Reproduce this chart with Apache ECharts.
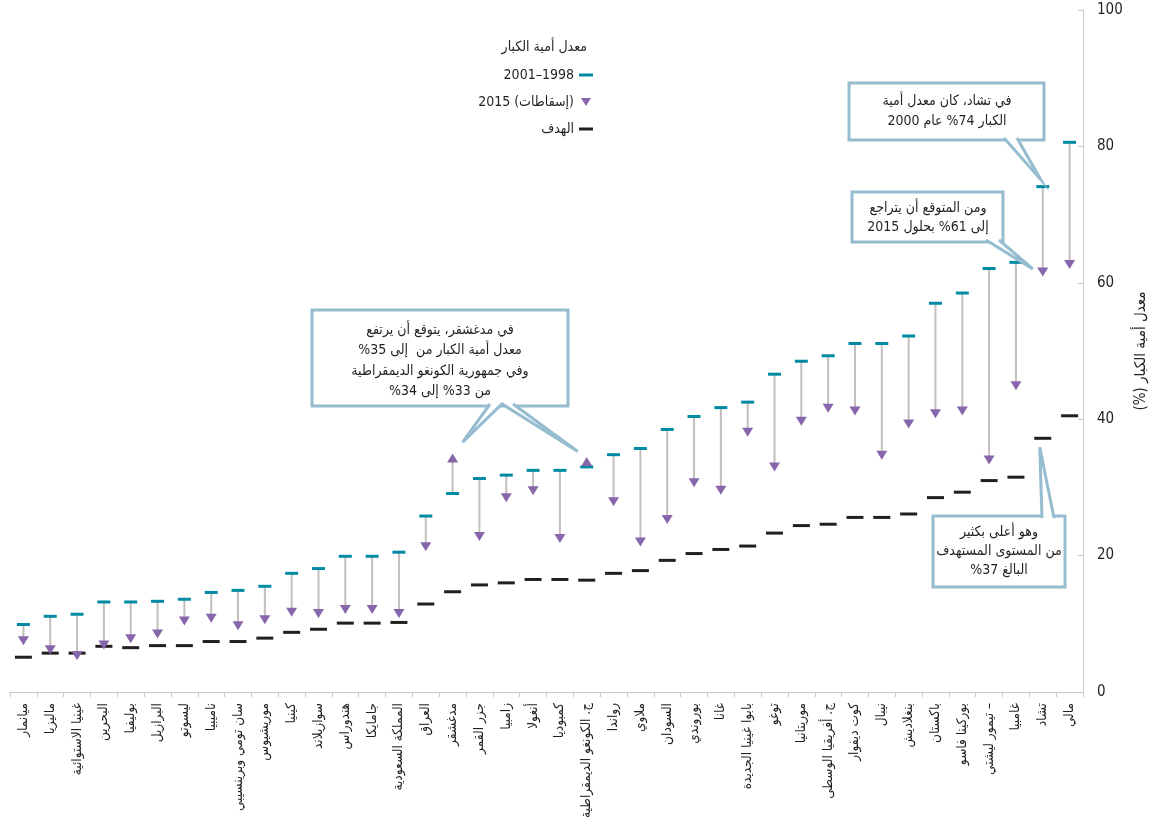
<!DOCTYPE html>
<html>
<head>
    <meta charset="UTF-8">
    <title>معدل أمية الكبار</title>
    <script type="text/javascript" src="https://cdn.jsdelivr.net/npm/echarts@6/dist/echarts.min.js"></script>
</head>
<body style="margin: 0;background: #ffffff;">
<div id="main" dir="rtl" style="width:1150px;height:826px;"></div>
<script>
    var categories = ['ميانمار', 'ماليزيا', 'غينيا الاستوائية', 'البحرين', 'بوليفيا', 'البرازيل', 'ليسوتو', 'ناميبيا',
        'سان تومي وبرينسيبي', 'موريشيوس', 'كينيا', 'سوازيلاند', 'هندوراس', 'جامايكا', 'المملكة السعودية', 'العراق',
        'مدغشقر', 'جزر القمر', 'زامبيا', 'أنغولا', 'كمبوديا', 'ج. الكونغو الديمقراطية', 'رواندا', 'ملاوي',
        'السودان', 'بوروندي', 'غانا', 'بابوا غينيا الجديدة', 'توغو', 'موريتانيا', 'ج. أفريقيا الوسطى', 'كوت ديفوار',
        'نيبال', 'بنغلاديش', 'باكستان', 'بوركينا فاسو', '– تيمور ليشتي', 'غامبيا', 'تشاد', 'مالي'];

    // 1998-2001
    var baseline = [9.9, 11.1, 11.4, 13.2, 13.2, 13.3, 13.6, 14.6, 14.9, 15.5, 17.4, 18.1, 19.9, 19.9, 20.5, 25.8,
        29.1, 31.3, 31.8, 32.5, 32.5, 33.0, 34.8, 35.7, 38.5, 40.4, 41.7, 42.5, 46.6, 48.5, 49.3, 51.1,
        51.1, 52.2, 57.0, 58.5, 62.1, 63.0, 74.1, 80.6];

    // 2015 (projections)
    var projection = [7.5, 6.2, 5.3, 6.9, 7.8, 8.5, 10.4, 10.8, 9.7, 10.6, 11.7, 11.5, 12.1, 12.1, 11.5, 21.3,
        34.3, 22.8, 28.5, 29.5, 22.5, 33.8, 27.9, 22.0, 25.3, 30.7, 29.6, 38.1, 33.0, 39.7, 41.6, 41.2,
        34.7, 39.3, 40.8, 41.2, 34.0, 44.9, 61.6, 62.7];

    // goal
    var target = [5.1, 5.7, 5.7, 6.7, 6.5, 6.8, 6.8, 7.4, 7.4, 7.9, 8.75, 9.2, 10.1, 10.1, 10.2, 12.9,
        14.7, 15.7, 16.0, 16.5, 16.5, 16.4, 17.4, 17.8, 19.3, 20.3, 20.9, 21.4, 23.3, 24.4, 24.6, 25.6,
        25.6, 26.1, 28.5, 29.3, 31.0, 31.5, 37.2, 40.5];

    var yTicks = [0, 20, 40, 60, 80, 100];
    var seriesNames = ['1998–2001', '(إسقاطات) 2015', 'الهدف'];

    var font = "'Liberation Sans Narrow', 'DejaVu Sans Condensed', sans-serif";
    var teal = '#008aa3', purple = '#8866ac', ink = '#231f20', frame = '#95bccf';

    var chart = echarts.init(document.getElementById('main'));

    var option = {
        animation: false,
        textStyle: {fontFamily: font},
        title: {
            text: 'معدل أمية الكبار',
            right: 558, top: 35,
            textStyle: {fontSize: 14, fontWeight: 'normal', color: ink, fontFamily: font}
        },
        legend: {
            orient: 'vertical', right: 552, top: 63,
            align: 'right', itemWidth: 14, itemHeight: 10, itemGap: 13,
            symbolRotate: 0,
            textStyle: {fontSize: 14, color: ink, fontFamily: font},
            data: [
                {name: seriesNames[0], icon: 'path://M0,0M14,10M0,3.5H14V6.5H0Z'},
                {name: seriesNames[1], icon: 'path://M0,0M14,10M2,1H12L7,9Z'},
                {name: seriesNames[2], icon: 'path://M0,0M14,10M0,3.5H14V6.5H0Z'}
            ]
        },
        grid: {left: 10, right: 67, top: 10, bottom: 134, outerBoundsMode: 'none', containLabel: false},
        xAxis: {
            type: 'category',
            data: categories,
            axisLine: {lineStyle: {color: '#c8c8c8'}},
            axisTick: {show: true, length: 5, lineStyle: {color: '#c8c8c8'}},
            axisLabel: {rotate: 90, fontSize: 13.5, color: ink, margin: 11, interval: 0, fontFamily: font},
            splitLine: {show: false}
        },
        yAxis: {
            type: 'value',
            position: 'right',
            min: yTicks[0], max: yTicks[yTicks.length - 1], interval: 20,
            name: 'معدل أمية الكبار (%)',
            nameLocation: 'middle', nameRotate: 90, nameGap: 47,
            nameTextStyle: {fontSize: 15, color: ink, fontFamily: font},
            axisLine: {show: true, lineStyle: {color: '#c8c8c8'}},
            axisTick: {show: true, inside: true, length: 5, lineStyle: {color: '#c8c8c8'}},
            axisLabel: {fontSize: 15, color: ink, margin: 14, fontFamily: font},
            splitLine: {show: false}
        },
        series: [
            {
                type: 'custom',
                silent: true,
                z: 1,
                renderItem: function (params, api) {
                    var p1 = api.coord([api.value(0), api.value(1)]);
                    var p2 = api.coord([api.value(0), api.value(2)]);
                    return {
                        type: 'line',
                        shape: {x1: p1[0], y1: p1[1], x2: p2[0], y2: p2[1]},
                        style: {stroke: '#c4bebc', lineWidth: 2}
                    };
                },
                data: categories.map(function (c, i) {
                    return [i, baseline[i], projection[i]];
                })
            },
            {
                name: seriesNames[2],
                type: 'scatter',
                z: 2,
                symbol: 'rect', symbolSize: [17, 3],
                itemStyle: {color: ink, opacity: 1},
                data: target
            },
            {
                name: seriesNames[0],
                type: 'scatter',
                z: 3,
                symbol: 'rect', symbolSize: [13, 3],
                itemStyle: {color: teal, opacity: 1},
                data: baseline
            },
            {
                name: seriesNames[1],
                type: 'scatter',
                z: 4,
                symbol: 'triangle', symbolSize: [11, 9],
                itemStyle: {color: purple, opacity: 1},
                data: projection.map(function (v, i) {
                    return {value: v, symbolRotate: v > baseline[i] ? 0 : 180};
                })
            }
        ]
    };
    chart.setOption(option);

    function px(i, v) {
        return chart.convertToPixel({gridIndex: 0}, [categories[i], v]);
    }

    // callout: box, pointer polyline (zig-zag of base/tip points), text lines
    function callout(box, pts, lines, cx, y0, lh) {
        var els = [];
        els.push({
            type: 'rect', z: 100,
            shape: {x: box[0], y: box[1], width: box[2], height: box[3]},
            style: {fill: '#fff', stroke: frame, lineWidth: 3}
        });
        els.push({
            type: 'polygon', z: 101,
            shape: {points: pts},
            style: {fill: '#fff', stroke: null}
        });
        els.push({
            type: 'polyline', z: 102,
            shape: {points: pts},
            style: {stroke: frame, lineWidth: 3, fill: null}
        });
        lines.forEach(function (t, k) {
            els.push({
                type: 'text', z: 103,
                style: {
                    text: t, x: cx, y: y0 + k * lh,
                    align: 'center', verticalAlign: 'middle',
                    fontSize: 14, fontFamily: font, fill: ink
                }
            });
        });
        return els;
    }

    var mad = px(16, projection[16]);
    var drc = px(21, projection[21]);
    var chadBase = px(38, baseline[38]);
    var chadProj = px(38, projection[38]);
    var chadGoal = px(38, target[38]);

    var graphics = []
        .concat(callout([312, 310, 256, 96],
            [[490, 404], [mad[0] + 10, mad[1] - 16], [502, 404], [drc[0] - 9, drc[1] - 10], [513, 404]],
            ['في مدغشقر، يتوقع أن يرتفع', 'معدل أمية الكبار من  إلى 35%', 'وفي جمهورية الكونغو الديمقراطية', 'من 33% إلى 34%'],
            440, 330, 20.5))
        .concat(callout([849, 83, 195, 57],
            [[1004, 138], [chadBase[0] - 2, chadBase[1] - 7], [1017, 138]],
            ['في تشاد، كان معدل أمية', 'الكبار 74% عام 2000'],
            947, 101, 20))
        .concat(callout([852, 192, 151, 50],
            [[986, 240], [chadProj[0] - 10, chadProj[1] - 3], [999, 240]],
            ['ومن المتوقع أن يتراجع', 'إلى 61% بحلول 2015'],
            928, 208, 19))
        .concat(callout([933, 516, 132, 71],
            [[1042, 518], [chadGoal[0] - 3, chadGoal[1] + 9], [1054, 518]],
            ['وهو أعلى بكثير', 'من المستوى المستهدف', 'البالغ 37%'],
            999, 532, 19));

    chart.setOption({graphic: graphics});
</script>
</body>
</html>
